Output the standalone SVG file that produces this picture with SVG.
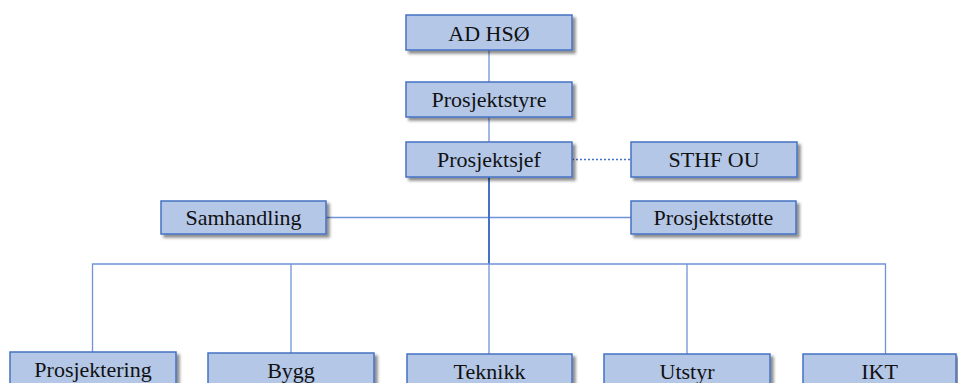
<svg xmlns="http://www.w3.org/2000/svg" width="958" height="383" viewBox="0 0 958 383">
  <defs>
    <filter id="shadow" x="-10%" y="-20%" width="130%" height="160%">
      <feDropShadow dx="3" dy="3" stdDeviation="1.5" flood-color="#000" flood-opacity="0.45"/>
    </filter>
  </defs>
  <style>
    .box { fill: #b4c7e7; stroke: #4472c4; stroke-width: 1.5; filter: url(#shadow); }
    .label { font-family: "Liberation Serif", "Times New Roman", serif; font-size: 22px; fill: #111; text-anchor: middle; }
    .link { stroke: #6f93d6; stroke-width: 1.3; fill: none; }
    .trunk { stroke: #4472c4; stroke-width: 2; fill: none; }
    .dotted { stroke: #4472c4; stroke-width: 1.3; stroke-dasharray: 2 2; fill: none; }
  </style>
  <rect width="958" height="383" fill="#fff"/>

  <g id="connectors">
    <line class="link" x1="489" y1="50" x2="489" y2="82"/>
    <line class="link" x1="489" y1="117" x2="489" y2="142"/>
    <line class="dotted" x1="572" y1="159.5" x2="631" y2="159.5"/>
    <line class="link" x1="326" y1="217.5" x2="631" y2="217.5"/>
    <line class="trunk" x1="489" y1="177" x2="489" y2="264"/>
    <polyline class="link" points="92.5,352 92.5,264 885.5,264 885.5,354"/>
    <line class="link" x1="291" y1="264" x2="291" y2="353"/>
    <line class="link" x1="489" y1="264" x2="489" y2="354"/>
    <line class="link" x1="687" y1="264" x2="687" y2="354"/>
  </g>

  <g id="ad-hso">
    <rect class="box" x="406" y="15" width="166" height="35"/>
    <text class="label" x="489" y="41">AD HSØ</text>
  </g>
  <g id="prosjektstyre">
    <rect class="box" x="406" y="82" width="166" height="35"/>
    <text class="label" x="489" y="107">Prosjektstyre</text>
  </g>
  <g id="prosjektsjef">
    <rect class="box" x="406" y="142" width="166" height="35"/>
    <text class="label" x="489" y="167">Prosjektsjef</text>
  </g>
  <g id="sthf-ou">
    <rect class="box" x="631" y="142" width="166" height="35"/>
    <text class="label" x="714" y="167">STHF OU</text>
  </g>
  <g id="samhandling">
    <rect class="box" x="161" y="201" width="165" height="33"/>
    <text class="label" x="243.5" y="225">Samhandling</text>
  </g>
  <g id="prosjektstotte">
    <rect class="box" x="631" y="201" width="165" height="33"/>
    <text class="label" x="713.5" y="225">Prosjektstøtte</text>
  </g>
  <g id="prosjektering">
    <rect class="box" x="10" y="352" width="166" height="36"/>
    <text class="label" x="93" y="377">Prosjektering</text>
  </g>
  <g id="bygg">
    <rect class="box" x="208" y="353" width="166" height="36"/>
    <text class="label" x="291" y="378">Bygg</text>
  </g>
  <g id="teknikk">
    <rect class="box" x="407" y="354" width="165" height="36"/>
    <text class="label" x="489.5" y="379">Teknikk</text>
  </g>
  <g id="utstyr">
    <rect class="box" x="604" y="354" width="166" height="36"/>
    <text class="label" x="687" y="379">Utstyr</text>
  </g>
  <g id="ikt">
    <rect class="box" x="803" y="354" width="153" height="36"/>
    <text class="label" x="879.5" y="379">IKT</text>
  </g>
</svg>
